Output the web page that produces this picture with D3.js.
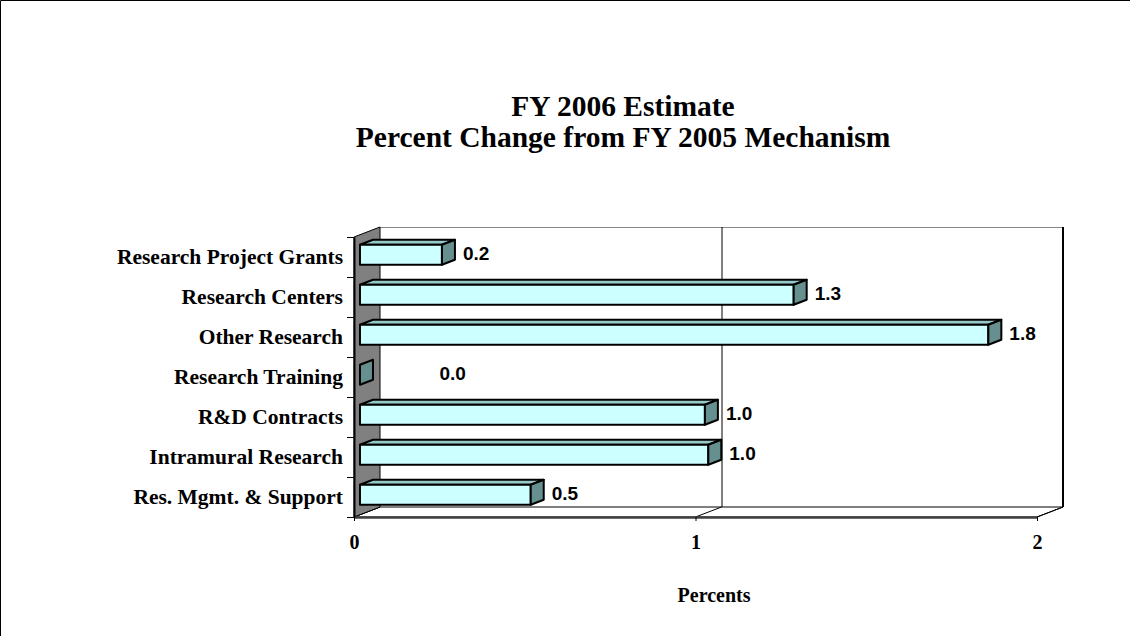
<!DOCTYPE html>
<html>
<head>
<meta charset="utf-8">
<script src="https://cdn.jsdelivr.net/npm/d3@7"></script>
<style>
  html, body { margin: 0; padding: 0; background: #fff; }
  svg { display: block; }
</style>
</head>
<body>
<svg id="chart" width="1130" height="636"></svg>
<script>
// ---- data ----
const categories = ["Research Project Grants", "Research Centers", "Other Research", "Research Training", "R&D Contracts", "Intramural Research", "Res. Mgmt. & Support"];
const values = [0.24, 1.27, 1.84, 0.0, 1.01, 1.02, 0.50];
const xTickValues = [0, 1, 2];
const titleLines = ["FY 2006 Estimate", "Percent Change from FY 2005 Mechanism"];
const xAxisTitle = "Percents";

// ---- layout ----
const W = 1130, H = 636;
const plot = { left: 354, right: 1037, top: 237, bottom: 517 };
const DX = 26, DY = -10;          // 3D depth offset of the walls
const f0 = 0.23, f1 = 0.73;       // bar depth span (fraction of wall depth)

const svg = d3.select("#chart");
const serif = "'Liberation Serif','Times New Roman',serif";
const sans = "'Liberation Sans',Arial,sans-serif";

const x = d3.scaleLinear().domain([0, 2]).range([plot.left, plot.right]);
const y = d3.scaleBand().domain(categories).range([plot.top, plot.bottom]).paddingInner(0.5).paddingOuter(0.25);
const yCat = d3.scaleBand().domain(categories).range([plot.top, plot.bottom]);

// chart area border (top & left visible)
svg.append("line").attr("x1", 0.5).attr("y1", 0.5).attr("x2", W).attr("y2", 0.5).attr("stroke", "#000");
svg.append("line").attr("x1", 0.5).attr("y1", 0.5).attr("x2", 0.5).attr("y2", H).attr("stroke", "#000");

// title
svg.append("g").selectAll("text").data(titleLines).join("text")
  .attr("x", 623).attr("y", (d, i) => 116 + i * 31)
  .attr("text-anchor", "middle")
  .attr("font-family", serif).attr("font-weight", "bold").attr("font-size", "29.5px")
  .text(d => d);

const pt = (px, py) => px + "," + py;

// back wall
svg.append("rect")
  .attr("x", plot.left + DX).attr("y", plot.top + DY)
  .attr("width", plot.right - plot.left).attr("height", plot.bottom - plot.top)
  .attr("fill", "#fff").attr("stroke", "none");
svg.append("line").attr("x1", plot.left + DX).attr("y1", plot.top + DY + 0.5)
  .attr("x2", plot.right + DX).attr("y2", plot.top + DY + 0.5).attr("stroke", "#888").attr("stroke-width", 1);
svg.append("line").attr("x1", plot.right + DX).attr("y1", plot.top + DY)
  .attr("x2", plot.right + DX).attr("y2", plot.bottom + DY).attr("stroke", "#000").attr("stroke-width", 2);

// floor
svg.append("polygon")
  .attr("points", [pt(plot.left, plot.bottom), pt(plot.right, plot.bottom), pt(plot.right + DX, plot.bottom + DY), pt(plot.left + DX, plot.bottom + DY)].join(" "))
  .attr("fill", "#fff").attr("stroke", "#000").attr("stroke-width", 1);

// gridlines (back wall + floor) for each x tick
const grid = svg.append("g");
xTickValues.forEach(v => {
  const gx = x(v);
  if (v > 0 && v < 2) {
    grid.append("line").attr("x1", gx + DX + 0.5).attr("y1", plot.top + DY).attr("x2", gx + DX + 0.5).attr("y2", plot.bottom + DY)
      .attr("stroke", "#000").attr("stroke-width", 1);
  }
  grid.append("line").attr("x1", gx + DX).attr("y1", plot.bottom + DY).attr("x2", gx).attr("y2", plot.bottom)
    .attr("stroke", "#000").attr("stroke-width", 1);
});

// left (side) wall
svg.append("polygon")
  .attr("points", [pt(plot.left, plot.top), pt(plot.left + DX, plot.top + DY), pt(plot.left + DX, plot.bottom + DY), pt(plot.left, plot.bottom)].join(" "))
  .attr("fill", "#808080").attr("stroke", "#000").attr("stroke-width", 1);

// floor front edge (value axis line)
svg.append("line").attr("x1", plot.left).attr("y1", plot.bottom + 0.5).attr("x2", plot.right).attr("y2", plot.bottom + 0.5)
  .attr("stroke", "#404040").attr("stroke-width", 2.5);

// bars
const bars = svg.append("g");
categories.forEach((c, i) => {
  const v = values[i];
  const xs = x(0) + f0 * DX, xe = x(v) + f0 * DX;
  const yt = y(c) + f0 * DY, yb = yt + y.bandwidth();
  const ddx = (f1 - f0) * DX, ddy = (f1 - f0) * DY;
  const g = bars.append("g").attr("stroke", "#000").attr("stroke-width", 2).attr("stroke-linejoin", "round");
  if (v > 0) {
    g.append("polygon").attr("points", [pt(xs, yt), pt(xe, yt), pt(xe + ddx, yt + ddy), pt(xs + ddx, yt + ddy)].join(" "))
      .attr("fill", "#99C8C8");
    g.append("rect").attr("x", xs).attr("y", yt).attr("width", xe - xs).attr("height", yb - yt).attr("fill", "#CCFFFF");
  }
  g.append("polygon").attr("points", [pt(xe, yt), pt(xe + ddx, yt + ddy), pt(xe + ddx, yb + ddy), pt(xe, yb)].join(" "))
    .attr("fill", "#668F8F");
});

// value labels
const labelMinX = x(0.25);
svg.append("g").selectAll("text").data(categories).join("text")
  .attr("x", (c, i) => Math.max(x(values[i]) + f1 * DX + 8, labelMinX))
  .attr("y", c => yCat(c) + yCat.bandwidth() / 2 - 4)
  .attr("dy", "0.35em")
  .attr("font-family", sans).attr("font-weight", "bold").attr("font-size", "19px")
  .text((c, i) => d3.format(".1f")(values[i]));

// category axis
const catAxis = svg.append("g").attr("transform", `translate(${plot.left},0)`)
  .call(d3.axisLeft(yCat).tickSize(0).tickPadding(11));
catAxis.select(".domain").attr("stroke", "#000").attr("stroke-width", 2);
catAxis.selectAll("text").attr("font-family", serif).attr("font-weight", "bold").attr("font-size", "21.5px").attr("fill", "#000");
// boundary ticks between categories
const bounds = categories.map(c => yCat(c)).concat([plot.bottom]);
svg.append("g").selectAll("line").data(bounds).join("line")
  .attr("x1", plot.left - 7).attr("x2", plot.left).attr("y1", d => d + 0.5).attr("y2", d => d + 0.5)
  .attr("stroke", "#000").attr("stroke-width", 1);

// value axis
const valAxis = svg.append("g").attr("transform", `translate(0,${plot.bottom})`)
  .call(d3.axisBottom(x).tickValues(xTickValues).tickFormat(d3.format("d")).tickSize(4).tickPadding(14));
valAxis.select(".domain").remove();
valAxis.selectAll("line").attr("stroke", "#000");
valAxis.selectAll("text").attr("font-family", serif).attr("font-weight", "bold").attr("font-size", "20px").attr("fill", "#000");

// axis title
svg.append("text").attr("x", 714).attr("y", 602).attr("text-anchor", "middle")
  .attr("font-family", serif).attr("font-weight", "bold").attr("font-size", "20px")
  .text(xAxisTitle);
</script>
</body>
</html>
